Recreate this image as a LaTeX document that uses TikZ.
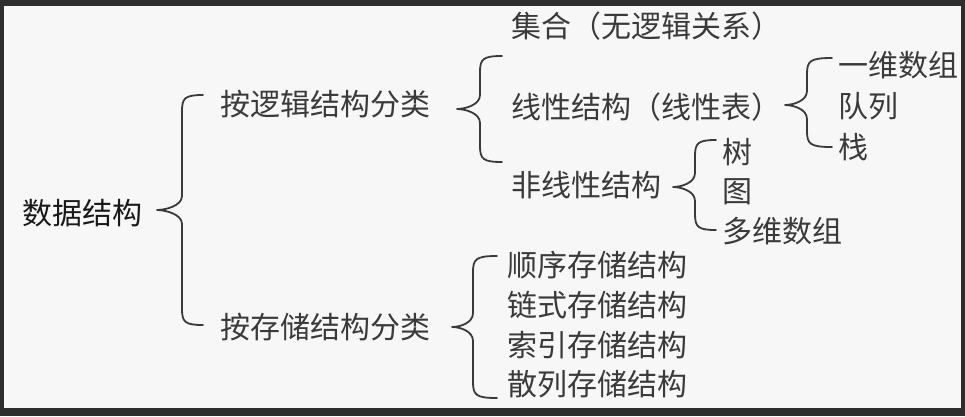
\documentclass[tikz,border=0pt]{standalone}
\usepackage{fontspec}
\newfontfamily\cjk{Noto Sans CJK SC}
\definecolor{frame}{HTML}{2E2E2E}
\definecolor{paper}{HTML}{F7F7F7}
\definecolor{ink}{HTML}{3A3A3A}
\newcommand\brc[6]{% xtip, xvert, xhook, ytop, ymid, ybot
  \draw[bracestyle] (#3,#4) .. controls (#2+3,#4) and (#2,#4+3) .. (#2,#4+16)
    -- (#2,#5-14) .. controls (#2,#5-4) and (#1+8,#5) .. (#1,#5)
    .. controls (#1+8,#5) and (#2,#5+4) .. (#2,#5+14)
    -- (#2,#6-16) .. controls (#2,#6-3) and (#2+3,#6) .. (#3,#6);}
\begin{document}
\begin{tikzpicture}[x=1pt,y=-1pt,
  bracestyle/.style={draw=ink,line width=1.8pt,line cap=round,line join=round},
  lbl/.style={anchor=west,inner sep=0pt,text=ink,font=\cjk\fontsize{30}{30}\selectfont},
  ttl/.style={anchor=west,inner sep=0pt,text=black!90,font=\cjk\fontsize{30}{30}\selectfont}]
\useasboundingbox (0,0) rectangle (965,416);
\fill[frame] (0,0) rectangle (965,416);
\fill[paper] (4,6) rectangle (961,408);
% root
\node[ttl] (root) at (22,213) {数据结构};
\brc{157}{182}{203}{95}{210}{325}
% level 1
\node[lbl] (logic) at (220,104) {按逻辑结构分类};
\node[lbl] (store) at (220,327) {按存储结构分类};
\brc{457}{480}{502}{56}{109}{162}
% logical children
\node[lbl] (set) at (511,26) {集合（无逻辑关系）};
\node[lbl] (lin) at (511,107) {线性结构（线性表）};
\node[lbl] (nonlin) at (511,185) {非线性结构};
\brc{785}{807}{832}{58}{105}{147}
\node[lbl] (arr1) at (838,65) {一维数组};
\node[lbl] (queue) at (838,106) {队列};
\node[lbl] (stack) at (838,147) {栈};
\brc{673}{695}{716}{140}{187}{230}
\node[lbl] (tree) at (722,152) {树};
\node[lbl] (graph) at (722,192) {图};
\node[lbl] (arrn) at (722,231) {多维数组};
% storage children
\brc{452}{473}{497}{256}{327}{398}
\node[lbl] (seq) at (507,265) {顺序存储结构};
\node[lbl] (link) at (507,305) {链式存储结构};
\node[lbl] (idx) at (507,345) {索引存储结构};
\node[lbl] (hash) at (507,384) {散列存储结构};
\end{tikzpicture}
\end{document}
